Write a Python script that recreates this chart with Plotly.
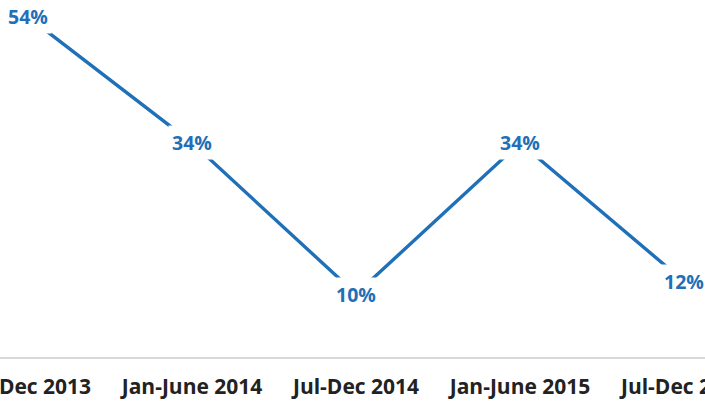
import plotly.graph_objects as go

periods = ["Jul-Dec 2013", "Jan-June 2014", "Jul-Dec 2014", "Jan-June 2015", "Jul-Dec 2015"]
share = [54, 34, 10, 34, 12]

BLUE = "#1f70b8"
FONT = "Open Sans"

xs = list(range(len(periods)))

fig = go.Figure()
fig.add_trace(go.Scatter(
    x=xs, y=share, mode="lines",
    line=dict(color=BLUE, width=3.4),
    hoverinfo="skip", showlegend=False,
))

for xi, v in zip(xs, share):
    fig.add_annotation(
        x=xi, y=v, text=f"<b>{v}%</b>", showarrow=False,
        font=dict(family=FONT, size=19.5, color=BLUE),
        bgcolor="white", borderpad=3,
    )

fig.update_xaxes(
    range=[-0.171, 4.128], tickvals=xs, ticktext=[f"<b>{p}</b>" for p in periods],
    tickfont=dict(family=FONT, size=21, color="#222222"),
    showgrid=False, zeroline=False, showline=True, linecolor="#d9d9d9", linewidth=2,
    ticks="", ticklabelstandoff=10, ticklabeloverflow="allow", automargin=False,
)
fig.update_yaxes(range=[0, 56.67], visible=False, showgrid=False, zeroline=False)

fig.update_layout(
    width=705, height=401,
    margin=dict(l=0, r=0, t=0, b=44),
    paper_bgcolor="white", plot_bgcolor="white",
)

fig.write_html("out.html")
